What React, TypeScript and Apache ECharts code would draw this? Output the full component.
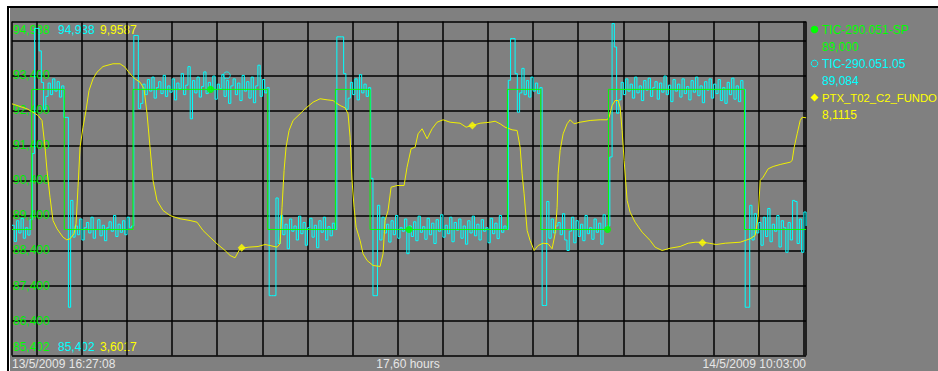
import React, { useEffect, useRef } from 'react';
import * as echarts from 'echarts';

// ---- time span ----
const START_UTC = Date.UTC(2009, 4, 13, 16, 27, 8);
const END_UTC = Date.UTC(2009, 4, 14, 10, 3, 0);
const startLabel = '13/5/2009 16:27:08';
const spanLabel = '17,60 hours';
const endLabel = '14/5/2009 10:03:00';

// ---- series meta ----
const seriesNames = ['TIC-290.051-SP', 'TIC-290.051.05', 'PTX_T02_C2_FUNDO'];
const seriesColors = ['#00ff00', '#00ffff', '#ffff00'];
const currentValues = [89.0, 89.084, 8.1115];
const valueDecimals = [3, 3, 4];
const axisMin = [85.402, 85.402, 3.6017];
const axisMax = [94.938, 94.938, 9.9587];
const tempTickStep = 1;

// ---- setpoint (hours since start, value) ----
const spSteps: number[][] = [
  [0, 89], [0.437, 93], [1.159, 89], [2.682, 93], [5.668, 89], [7.167, 93],
  [7.936, 89], [10.98, 93], [11.72, 89], [13.219, 93], [16.234, 89], [17.6, 89],
];

// ---- measured temperature, one sample every 0.05 h ----
const cyanStepHours = 0.05;
const cyanValues: number[] = [
  89.12, 88.66, 89.25, 88.90, 89.32, 88.75, 89.05, 88.84, 89.28,
  91.17, 94.74, 94.74, 94.10, 93.20, 92.43, 92.80,
  93.18, 92.85, 93.30, 92.95, 93.22, 92.78, 93.10,
  92.20, 92.20, 86.78, 89.83, 88.78,
  89.10, 88.85, 89.30, 88.70, 89.05, 89.20, 88.90, 89.35, 88.75, 89.00,
  89.28, 88.82, 89.12, 88.68, 89.05, 89.22, 88.95, 89.40, 88.80, 89.15,
  88.92, 89.25, 88.85, 89.35, 89.05,
  89.10, 94.54, 94.54, 92.45, 92.60,
  93.15, 92.85, 93.28, 92.95, 93.35, 92.75, 93.05, 93.22, 92.88, 93.40,
  92.80, 93.10, 92.92, 93.30, 92.70, 93.18, 93.02, 93.45, 92.85, 93.12,
  93.65, 92.16, 93.25, 92.90, 93.35, 92.78, 93.08, 93.50, 92.88, 93.20,
  92.95, 93.38, 92.72, 93.15, 93.02, 93.42, 92.80, 93.25, 92.60, 93.10,
  93.30, 92.85, 93.18, 92.68, 93.40, 92.95, 93.22, 92.75, 93.35, 92.62,
  93.10, 93.69, 92.80, 93.28, 92.90,
  93.05, 87.11, 87.11, 87.11, 89.90,
  88.60, 89.40, 88.85, 89.15, 88.45, 89.30, 88.95, 89.10, 88.70, 89.38,
  88.88, 89.20, 88.55, 89.05, 89.32, 88.78, 89.12, 88.48, 89.25, 88.92,
  89.35, 88.70, 89.08, 88.82, 89.18,
  89.00, 94.50, 94.50, 94.50, 93.45, 92.43, 92.75,
  93.20, 92.85, 93.30, 92.70, 93.42, 92.90, 93.15, 92.80,
  93.05, 90.46, 87.11, 87.11, 89.69,
  88.70, 89.35, 88.90, 89.15, 88.64, 89.25, 88.85, 89.40, 88.75, 89.05,
  88.95, 89.30, 88.31, 89.10, 88.80, 89.22, 88.68, 89.38, 88.92, 89.08,
  88.72, 89.32, 88.85, 89.18, 88.60, 89.28, 88.95, 89.42, 88.78, 89.12,
  88.88, 89.35, 88.65, 89.20, 88.98, 89.30, 88.75, 89.10, 88.58, 89.25,
  88.90, 89.38, 88.82, 89.15, 88.70, 89.28, 88.95, 89.05, 88.62, 89.32,
  88.88, 89.18, 88.74, 89.40, 88.92, 89.10,
  89.00, 93.26, 94.45, 94.45, 93.45, 92.35, 92.90, 93.60,
  92.85, 93.25, 92.78, 93.35, 92.95, 93.18, 92.88,
  93.05, 86.83, 86.83, 89.80,
  88.75, 89.30, 88.90, 89.10, 89.20, 88.85, 89.45, 88.70, 88.40, 88.95,
  89.35, 88.62, 89.25, 88.80, 89.15, 88.68, 89.40, 88.88, 89.05, 88.72,
  89.30, 88.92, 89.18, 88.58, 89.42, 89.00,
  89.10, 91.07, 94.88, 94.21, 92.32, 92.70,
  93.20, 92.85, 93.30, 92.95, 93.15, 92.75, 93.35, 92.90, 93.10, 92.68,
  93.25, 92.98, 93.32, 92.80, 93.05, 93.22, 92.72, 93.18, 92.92, 93.38,
  92.85, 93.12, 92.65, 93.28, 92.95, 93.15, 92.78, 93.30, 92.88, 93.08,
  92.70, 93.25, 92.92, 93.35, 92.82, 93.10, 92.62, 93.22, 92.98, 93.30,
  92.75, 93.15, 92.88, 93.28, 92.68, 93.05, 92.60, 93.20, 92.85, 93.32,
  92.72, 93.10, 92.65, 93.25,
  93.00, 86.78, 86.78, 89.69,
  88.70, 89.45, 88.90, 89.20, 88.55, 89.35, 88.80, 89.60, 88.65, 89.15,
  88.95, 89.40, 88.50, 89.25, 89.05, 88.35, 89.20, 88.70, 89.83, 89.80,
  88.60, 89.30, 88.35, 89.50, 89.10,
];

// ---- pressure (hours since start, value) ----
const pressure: number[][] = [
  [0, 8.392], [0.177, 8.341], [0.333, 8.297], [0.466, 8.232], [0.576, 8.170], [0.665, 8.075],
  [0.732, 7.566], [0.776, 7.123], [0.842, 6.615], [0.909, 6.171], [0.998, 6.013], [1.131, 5.853],
  [1.213, 5.804], [1.286, 5.823], [1.374, 5.918], [1.419, 6.108], [1.463, 6.805], [1.508, 7.566],
  [1.574, 7.947], [1.640, 8.265], [1.707, 8.645], [1.796, 8.868], [1.884, 8.994], [2.017, 9.102],
  [2.239, 9.154], [2.394, 9.154], [2.505, 9.089], [2.616, 8.963], [2.727, 8.868], [2.838, 8.803],
  [2.926, 8.678], [2.993, 8.202], [3.059, 7.566], [3.126, 6.932], [3.214, 6.552], [3.347, 6.362],
  [3.503, 6.266], [3.613, 6.234], [3.724, 6.204], [3.946, 6.171], [4.101, 6.139], [4.234, 5.981],
  [4.389, 5.853], [4.544, 5.728], [4.722, 5.600], [4.833, 5.505], [4.943, 5.461], [5.054, 5.633],
  [5.232, 5.663], [5.453, 5.676], [5.608, 5.714], [5.719, 5.695], [5.875, 5.663], [5.941, 5.728],
  [5.985, 6.424], [6.030, 7.123], [6.074, 7.566], [6.141, 7.884], [6.229, 8.075], [6.384, 8.202],
  [6.495, 8.297], [6.673, 8.423], [6.828, 8.488], [6.983, 8.468], [7.116, 8.455], [7.160, 8.423],
  [7.271, 8.360], [7.382, 8.316], [7.448, 8.202], [7.493, 7.757], [7.537, 6.932], [7.581, 6.424],
  [7.626, 6.044], [7.715, 5.791], [7.781, 5.537], [7.870, 5.410], [8.003, 5.315], [8.158, 5.296],
  [8.224, 5.537], [8.269, 6.171], [8.335, 6.362], [8.402, 6.805], [8.535, 6.837], [8.690, 6.837],
  [8.756, 7.186], [8.845, 7.536], [8.934, 7.566], [9.000, 7.821], [9.089, 7.917], [9.200, 7.726],
  [9.311, 7.917], [9.421, 8.042], [9.554, 8.088], [9.710, 8.042], [9.931, 8.023], [10.064, 7.947],
  [10.197, 7.979], [10.375, 8.023], [10.596, 8.042], [10.707, 8.061], [10.818, 8.012], [10.929, 7.947],
  [11.084, 7.897], [11.195, 7.884], [11.262, 7.566], [11.306, 7.060], [11.350, 6.679], [11.417, 5.981],
  [11.483, 5.791], [11.572, 5.600], [11.661, 5.695], [11.771, 5.739], [11.882, 5.728], [11.971, 5.633],
  [12.037, 5.918], [12.082, 6.424], [12.104, 7.060], [12.148, 7.504], [12.215, 7.821], [12.303, 8.012],
  [12.370, 8.088], [12.458, 8.012], [12.591, 8.042], [12.813, 8.075], [13.035, 8.088], [13.190, 8.088],
  [13.234, 8.137], [13.301, 8.360], [13.367, 8.455], [13.434, 8.455], [13.478, 8.328], [13.522, 7.884],
  [13.567, 7.313], [13.633, 6.552], [13.700, 6.329], [13.811, 6.139], [13.966, 5.949], [14.143, 5.791],
  [14.254, 5.663], [14.409, 5.600], [14.587, 5.644], [14.808, 5.676], [14.986, 5.739], [15.141, 5.758],
  [15.296, 5.758], [15.451, 5.739], [15.607, 5.714], [15.807, 5.739], [16.139, 5.758], [16.250, 5.791],
  [16.355, 5.823], [16.471, 5.886], [16.538, 6.234], [16.582, 6.932], [16.648, 6.995], [16.759, 7.155],
  [16.870, 7.199], [17.025, 7.237], [17.247, 7.281], [17.291, 7.313], [17.336, 7.566], [17.402, 7.821],
  [17.469, 8.075], [17.513, 8.137], [17.6, 8.126],
];

// ---- sample markers (hours, value) ----
const spMarkers: number[][] = [[4.40, 93], [8.80, 89], [13.20, 89]];
const cyanMarkers: number[][] = [[4.76, 93.40]];
const pressureMarkers: number[][] = [[5.09, 5.652], [10.204, 7.979], [15.303, 5.747]];

const FONT = '"Liberation Sans", Arial, sans-serif';
const toT = (h: number) => START_UTC + h * 3600000;
const fmt = (v: number, d: number) => v.toFixed(d).replace('.', ',');

export default function App() {
  const ref = useRef<HTMLDivElement>(null);

  useEffect(() => {
    if (!ref.current) return;
    const chart = echarts.init(ref.current, undefined, { renderer: 'svg' });

    const extremeX = [13, 58, 100];
    const graphic: any[] = [];
    // top and bottom extreme labels
    for (let k = 0; k < 3; k++) {
      graphic.push({
        type: 'text', x: extremeX[k], y: 30, silent: true,
        style: { text: fmt(axisMax[k], valueDecimals[k]), fill: seriesColors[k], fontFamily: FONT, fontSize: 12, align: 'left', verticalAlign: 'middle' },
      });
      graphic.push({
        type: 'text', x: extremeX[k], y: 347, silent: true,
        style: { text: fmt(axisMin[k], valueDecimals[k]), fill: seriesColors[k], fontFamily: FONT, fontSize: 12, align: 'left', verticalAlign: 'middle' },
      });
    }
    // legend
    const legendY = [29.5, 63.5, 97.5];
    for (let k = 0; k < 3; k++) {
      const cy = legendY[k];
      if (k === 0) {
        graphic.push({ type: 'circle', shape: { cx: 814.5, cy, r: 3.8 }, style: { fill: seriesColors[0] } });
      } else if (k === 1) {
        graphic.push({ type: 'circle', shape: { cx: 814.5, cy, r: 3.3 }, style: { fill: 'none', stroke: seriesColors[1], lineWidth: 1 } });
      } else {
        graphic.push({ type: 'polygon', shape: { points: [[814.5, cy - 4], [818.5, cy], [814.5, cy + 4], [810.5, cy]] }, style: { fill: seriesColors[2] } });
      }
      graphic.push({
        type: 'text', x: 822, y: cy, silent: true,
        style: { text: seriesNames[k], fill: seriesColors[k], fontFamily: FONT, fontSize: k === 2 ? 11.3 : 12, align: 'left', verticalAlign: 'middle' },
      });
      graphic.push({
        type: 'text', x: 822, y: cy + 17, silent: true,
        style: { text: fmt(currentValues[k], valueDecimals[k]), fill: seriesColors[k], fontFamily: FONT, fontSize: 12, align: 'left', verticalAlign: 'middle' },
      });
    }
    // bottom time labels
    const bottomStyle = { fill: '#e6e6e6', fontFamily: FONT, fontSize: 12, verticalAlign: 'middle' };
    graphic.push({ type: 'text', x: 12, y: 364, style: { ...bottomStyle, text: startLabel, align: 'left' } });
    graphic.push({ type: 'text', x: 408, y: 364, style: { ...bottomStyle, text: spanLabel, align: 'center' } });
    graphic.push({ type: 'text', x: 806, y: 364, style: { ...bottomStyle, text: endLabel, align: 'right' } });

    const option: any = {
      animation: false,
      useUTC: true,
      backgroundColor: 'transparent',
      grid: { left: 12, right: 132, top: 21.5, bottom: 15.5, containLabel: false },
      xAxis: {
        type: 'time', min: START_UTC, max: END_UTC,
        minInterval: 3600000, maxInterval: 3600000,
        axisLine: { show: false }, axisTick: { show: false }, axisLabel: { show: false },
        splitLine: { show: true, lineStyle: { color: '#000000', width: 1.5 } },
      },
      yAxis: [
        {
          type: 'value', min: axisMin[0], max: axisMax[0], interval: tempTickStep,
          axisLine: { show: false }, axisTick: { show: false },
          axisLabel: {
            inside: true, margin: 1, color: '#00ee00', fontFamily: FONT, fontSize: 12,
            showMinLabel: true, showMaxLabel: true,
            formatter: (v: number) => (v > axisMin[0] + 0.5 && v < axisMax[0] - 1) ? fmt(v, 3) : '',
          },
          splitLine: { show: true, lineStyle: { color: '#000000', width: 1.5 } },
        },
        { type: 'value', min: axisMin[2], max: axisMax[2], show: false, splitLine: { show: false } },
      ],
      series: [
        {
          type: 'line', name: seriesNames[1], step: 'end', symbol: 'none', silent: true, z: 2,
          data: cyanValues.map((v, i) => [toT(i * cyanStepHours), v]),
          lineStyle: { color: seriesColors[1], width: 1 },
        },
        {
          type: 'line', name: seriesNames[2], yAxisIndex: 1, symbol: 'none', silent: true, z: 3,
          data: pressure.map(([h, v]) => [toT(h), v]),
          lineStyle: { color: '#f0f000', width: 1 },
        },
        {
          type: 'line', name: seriesNames[0], step: 'end', symbol: 'none', silent: true, z: 4,
          data: spSteps.map(([h, v]) => [toT(h), v]),
          lineStyle: { color: seriesColors[0], width: 1 },
        },
        {
          type: 'scatter', symbol: 'circle', symbolSize: 7, silent: true, z: 5,
          data: spMarkers.map(([h, v]) => [toT(h), v]),
          itemStyle: { color: seriesColors[0] },
        },
        {
          type: 'scatter', symbol: 'circle', symbolSize: 7, silent: true, z: 5,
          data: cyanMarkers.map(([h, v]) => [toT(h), v]),
          itemStyle: { color: 'rgba(0,0,0,0)', borderColor: seriesColors[1], borderWidth: 1 },
        },
        {
          type: 'scatter', symbol: 'diamond', symbolSize: 8, yAxisIndex: 1, silent: true, z: 5,
          data: pressureMarkers.map(([h, v]) => [toT(h), v]),
          itemStyle: { color: seriesColors[2] },
        },
      ],
      graphic,
    };
    chart.setOption(option);
    return () => chart.dispose();
  }, []);

  return (
    <div style={{ position: 'absolute', left: 0, top: 0, width: 938, height: 371, background: '#ffffff', overflow: 'hidden' }}>
      <div style={{ position: 'absolute', left: 10, top: 8, width: 928, height: 363, background: '#808080' }} />
      <div style={{ position: 'absolute', left: 6.5, top: 6, width: 931.5, height: 2, background: '#000000' }} />
      <div style={{ position: 'absolute', left: 6.5, top: 6, width: 2, height: 365, background: '#000000' }} />
      <div ref={ref} style={{ position: 'absolute', left: 0, top: 0, width: 938, height: 371 }} />
    </div>
  );
}
